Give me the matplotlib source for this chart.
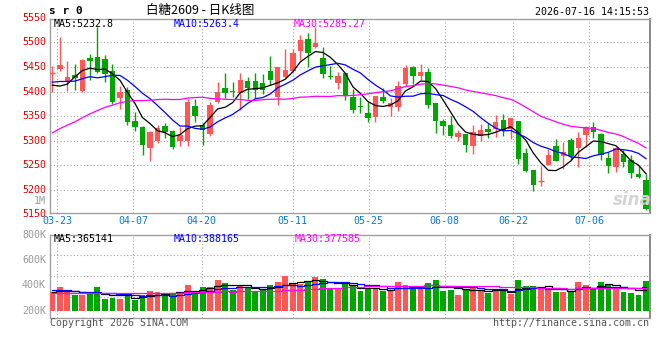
import numpy as np
import matplotlib
matplotlib.use("Agg")
import matplotlib.pyplot as plt
from matplotlib.transforms import blended_transform_factory as blend

# ---------------- data ----------------
symbol = "s r 0"
title = "白糖2609 - 日K线图"
stamp = "2026-07-16 14:15:53"
price_ma_labels = ["MA5:5232.8", "MA10:5263.4", "MA30:5285.27"]
vol_ma_labels = ["MA5:365141", "MA10:388165", "MA30:377585"]
ma_windows = [5, 10, 30]
date_labels = ["03-23", "04-07", "04-20", "05-11", "05-25", "06-08", "06-22", "07-06"]
date_index = [1, 11, 20, 32, 42, 52, 61, 71]
price_levels = [5150, 5200, 5250, 5300, 5350, 5400, 5450, 5500, 5550]
vol_levels = [200000, 400000, 600000, 800000]
vol_level_labels = ["200K", "400K", "600K", "800K"]

opens = [5438, 5446, 5422, 5434, 5401, 5469, 5471, 5466, 5442, 5386,
         5404, 5340, 5328, 5286, 5299, 5330, 5320, 5299, 5299, 5371,
         5332, 5313, 5379, 5408, 5401, 5397, 5421, 5421, 5418, 5441,
         5389, 5430, 5442, 5483, 5507, 5490, 5469, 5431, 5418, 5437,
         5389, 5371, 5357, 5349, 5388, 5369, 5369, 5416, 5450, 5431,
         5439, 5376, 5341, 5331, 5307, 5314, 5290, 5310, 5324, 5324,
         5342, 5324, 5341, 5275, 5241, 5219, 5250, 5290, 5269, 5301,
         5285, 5312, 5327, 5314, 5265, 5246, 5273, 5260, 5233, 5221]
highs = [5452, 5510, 5462, 5455, 5466, 5476, 5532, 5474, 5455, 5411,
         5410, 5358, 5330, 5320, 5331, 5335, 5322, 5327, 5384, 5384,
         5336, 5378, 5420, 5437, 5420, 5438, 5429, 5437, 5435, 5472,
         5449, 5486, 5486, 5515, 5518, 5532, 5490, 5452, 5440, 5437,
         5406, 5389, 5378, 5390, 5408, 5387, 5422, 5454, 5452, 5455,
         5448, 5376, 5345, 5350, 5322, 5314, 5331, 5333, 5336, 5353,
         5354, 5346, 5341, 5286, 5241, 5248, 5284, 5304, 5297, 5306,
         5318, 5329, 5338, 5316, 5278, 5287, 5282, 5270, 5248, 5233]
lows = [5400, 5442, 5402, 5403, 5400, 5424, 5437, 5420, 5374, 5364,
        5332, 5320, 5270, 5259, 5296, 5305, 5284, 5290, 5289, 5339,
        5291, 5310, 5377, 5387, 5389, 5362, 5384, 5386, 5395, 5413,
        5372, 5427, 5440, 5464, 5450, 5488, 5427, 5425, 5406, 5382,
        5357, 5356, 5338, 5338, 5376, 5350, 5360, 5411, 5416, 5424,
        5367, 5316, 5312, 5305, 5299, 5277, 5272, 5299, 5305, 5307,
        5310, 5303, 5252, 5236, 5197, 5207, 5250, 5259, 5243, 5260,
        5246, 5287, 5306, 5260, 5235, 5236, 5246, 5224, 5224, 5159]
closes = [5438, 5454, 5430, 5427, 5464, 5462, 5440, 5435, 5379, 5398,
          5339, 5328, 5291, 5318, 5326, 5318, 5288, 5312, 5379, 5351,
          5322, 5373, 5398, 5396, 5398, 5423, 5408, 5404, 5404, 5424,
          5449, 5444, 5479, 5505, 5479, 5499, 5435, 5429, 5431, 5390,
          5362, 5368, 5347, 5390, 5381, 5377, 5411, 5447, 5432, 5439,
          5372, 5340, 5330, 5310, 5316, 5291, 5318, 5321, 5317, 5339,
          5319, 5346, 5262, 5239, 5209, 5219, 5270, 5259, 5278, 5269,
          5306, 5327, 5317, 5271, 5249, 5285, 5256, 5235, 5227, 5161]
volumes = [345000, 390000, 345000, 324000, 324000, 329000, 390000, 292000, 298000, 292000,
           329000, 284000, 324000, 355000, 345000, 337000, 337000, 345000, 403000, 355000,
           390000, 390000, 442000, 421000, 363000, 395000, 382000, 345000, 363000, 403000,
           429000, 476000, 411000, 411000, 434000, 468000, 450000, 382000, 371000, 408000,
           397000, 355000, 368000, 368000, 358000, 355000, 426000, 403000, 382000, 382000,
           421000, 442000, 355000, 363000, 324000, 368000, 395000, 355000, 342000, 355000,
           371000, 332000, 442000, 395000, 395000, 368000, 382000, 345000, 350000, 345900,
           430000, 405000, 380000, 430000, 410945, 380000, 350000, 342000, 321705, 432000]
# closes / volumes before the visible window, estimated from where the MA lines start
prior_closes = [5200, 5215, 5225, 5210, 5230, 5240, 5235, 5250, 5245, 5258,
                5280, 5290, 5300, 5285, 5295, 5310, 5305, 5300, 5312, 5305,
                5440, 5430, 5420, 5415, 5420, 5464, 5410, 5352, 5401]
prior_volumes = [310000, 335000, 300000, 340000, 320000, 330000, 315000, 345000, 305000, 325000,
                 330000, 310000, 340000, 320000, 315000, 335000, 325000, 310000, 330000, 340000,
                 390000, 360000, 385000, 370000, 385000, 340000, 365000, 335000, 355000]

# ---------------- layout ----------------
W, H = 660, 360
fig = plt.figure(figsize=(W / 100, H / 100), dpi=100)
fig.patch.set_facecolor("white")


def fx(px):
    return px / W


def fy(py):
    return 1 - py / H


L, R = 50, 650
P_TOP, P_BOT = 19, 213
V_TOP, V_BOT = 234.6, 317.5
ax = fig.add_axes([fx(L), fy(P_BOT), (R - L) / W, (P_BOT - P_TOP) / H])
axv = fig.add_axes([fx(L), fy(V_BOT), (R - L) / W, (V_BOT - V_TOP) / H])

mono = "DejaVu Sans Mono"
fs = 7.2
RED, GREEN = "#ff5656", "#00a600"
MA_COLORS = ["#000000", "#0000ff", "#ff00ff"]
GRID = dict(color="#a8a8a8", lw=0.8, linestyle=(0, (1, 2)))

o = np.array(opens, float)
h = np.array(highs, float)
l = np.array(lows, float)
c = np.array(closes, float)
v = np.array(volumes, float)
n = len(c)
x = np.arange(n)
up = c >= o
cols = np.where(up, RED, GREEN)

xlim = (-0.31, 79.53)
gx = np.array(date_index) * 1.0108 - 0.345   # Sina's grid drift

# ---- price panel ----
ax.set_xlim(*xlim)
ax.set_ylim(5153, 5547.4)
for lv in price_levels:
    if 5153 < lv < 5547:
        ax.axhline(lv, zorder=1, **GRID)
for g in gx:
    ax.axvline(g, zorder=1, **GRID)

ax.vlines(x, l, h, colors=cols, lw=1.0, zorder=3)
body = np.abs(c - o)
ax.bar(x, body, bottom=np.minimum(o, c), width=0.72, color=cols, lw=0, zorder=4)
doji = body == 0
ax.hlines(c[doji], x[doji] - 0.38, x[doji] + 0.38, colors=cols[doji], lw=1.0, zorder=4)

allc = np.concatenate([prior_closes, c])
allv = np.concatenate([prior_volumes, v])


def ma(a, w):
    return np.convolve(a, np.ones(w) / w, mode="valid")[-n:]


for w, col in zip(ma_windows, MA_COLORS):
    ax.plot(x, ma(allc, w), color=col, lw=0.9, zorder=5)

tr = blend(ax.transAxes, ax.transData)
for lv in price_levels:
    ax.text(-0.0067, lv, str(lv), transform=tr, ha="right", va="center",
            color="#e00000", fontsize=fs, family=mono, clip_on=False)

trd = blend(ax.transData, fig.transFigure)
for g, lab in zip(gx, date_labels):
    ax.text(g, fy(221), lab, transform=trd, ha="center", va="center",
            color="#0a78d2", fontsize=fs, family=mono, clip_on=False)

# ---- volume panel ----
VMIN, VMAX = 146000, 800000
axv.set_xlim(*xlim)
axv.set_ylim(VMIN, VMAX)
for f in (0.25, 0.5, 0.75):
    axv.plot([0, 1], [f, f], transform=axv.transAxes, zorder=1, **GRID)
for g in gx:
    axv.axvline(g, zorder=1, **GRID)
axv.bar(x, v - 200000, bottom=200000, width=0.78, color=cols, lw=0, zorder=3)
for w, col in zip(ma_windows, MA_COLORS):
    axv.plot(x, ma(allv, w), color=col, lw=0.9, drawstyle="steps-mid", zorder=5)

trv = blend(axv.transAxes, axv.transData)
for lv, lab in zip(vol_levels, vol_level_labels):
    axv.text(-0.0067, lv, lab, transform=trv, ha="right", va="center",
             color="#9a9a9a", fontsize=fs, family=mono, clip_on=False)

for a in (ax, axv):
    a.set_xticks([])
    a.set_yticks([])
    a.set_facecolor("white")
    for s in a.spines.values():
        s.set_color("#a0a0a0")
        s.set_linewidth(1.0)
    a.spines["right"].set_color("#888888")
    a.spines["right"].set_linewidth(1.4)

# ---- header / footer text ----
fig.text(fx(49), fy(11), symbol, ha="left", va="center", fontsize=8,
         weight="bold", family=mono, color="black")
fig.text(fx(200), fy(10.5), title, ha="center", va="center", fontsize=9,
         family=["Noto Sans CJK SC", "DejaVu Sans"], color="black")
fig.text(fx(649), fy(12), stamp, ha="right", va="center", fontsize=fs,
         family=mono, color="black")
for xp, lab, col in zip([54, 174, 294], price_ma_labels, MA_COLORS):
    fig.text(fx(xp), fy(24), lab, ha="left", va="center", fontsize=fs,
             family=mono, color=col, zorder=10)
for xp, lab, col in zip([54, 174, 295], vol_ma_labels, MA_COLORS):
    fig.text(fx(xp), fy(238.5), lab, ha="left", va="center", fontsize=fs,
             family=mono, color=col, zorder=10)
fig.text(fx(46), fy(201), "1M", ha="right", va="center", fontsize=fs,
         family=mono, color="#9a9a9a")
fig.text(fx(50), fy(323.5), "Copyright 2026 SINA.COM", ha="left", va="center",
         fontsize=fs, family=mono, color="#555555")
fig.text(fx(649), fy(323.5), "http://finance.sina.com.cn", ha="right", va="center",
         fontsize=fs, family=mono, color="#555555")
fig.text(fx(632), fy(200), "sina", ha="center", va="center", fontsize=12,
         style="italic", weight="bold", color="#d4d4d4", zorder=0)

fig.savefig("out.png", dpi=100)
